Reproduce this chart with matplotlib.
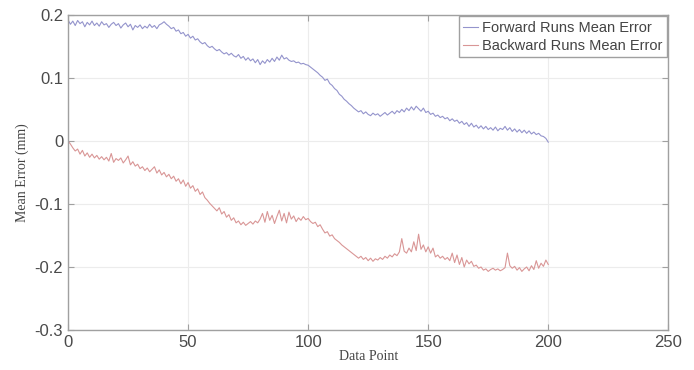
import numpy as np
import matplotlib
matplotlib.use('Agg')
import matplotlib.pyplot as plt

# mean error per data point
forward = [0.192,0.185,0.190,0.183,0.191,0.186,0.189,0.181,0.188,0.184,0.190,
           0.183,0.187,0.182,0.189,0.184,0.186,0.180,0.185,0.188,0.183,
           0.186,0.179,0.184,0.187,0.181,0.185,0.176,0.183,0.180,0.184,
           0.178,0.182,0.179,0.185,0.180,0.183,0.178,0.184,0.186,0.189,
           0.185,0.182,0.178,0.180,0.174,0.176,0.170,0.172,0.166,0.169,
           0.163,0.166,0.160,0.162,0.157,0.154,0.156,0.151,0.148,0.150,
           0.146,0.143,0.145,0.141,0.138,0.140,0.136,0.139,0.135,0.133,
           0.137,0.131,0.134,0.128,0.132,0.127,0.130,0.124,0.129,0.121,
           0.127,0.123,0.129,0.125,0.131,0.126,0.133,0.128,0.136,0.130,
           0.132,0.128,0.126,0.127,0.124,0.125,0.122,0.123,0.121,0.120,
           0.117,0.114,0.111,0.108,0.104,0.101,0.096,0.098,0.091,0.088,
           0.083,0.080,0.074,0.071,0.066,0.063,0.059,0.056,0.052,0.049,
           0.046,0.048,0.043,0.046,0.042,0.040,0.044,0.041,0.043,0.039,
           0.042,0.045,0.041,0.044,0.047,0.043,0.048,0.045,0.050,0.046,
           0.052,0.048,0.054,0.049,0.055,0.051,0.047,0.052,0.045,0.047,
           0.042,0.044,0.039,0.041,0.037,0.039,0.035,0.037,0.032,0.035,
           0.031,0.033,0.028,0.031,0.026,0.029,0.023,0.028,0.022,0.025,
           0.020,0.024,0.019,0.023,0.018,0.021,0.017,0.022,0.016,0.020,
           0.018,0.023,0.017,0.021,0.015,0.019,0.014,0.018,0.013,0.017,
           0.012,0.016,0.011,0.014,0.010,0.012,0.008,0.007,0.004,-0.002]

backward = [0.000,-0.005,-0.011,-0.016,-0.013,-0.021,-0.015,-0.024,-0.019,-0.026,-0.021,
            -0.027,-0.023,-0.029,-0.025,-0.030,-0.026,-0.032,-0.020,-0.034,-0.028,
            -0.031,-0.027,-0.035,-0.030,-0.024,-0.038,-0.033,-0.040,-0.037,-0.044,
            -0.041,-0.047,-0.043,-0.049,-0.045,-0.041,-0.051,-0.046,-0.054,-0.050,
            -0.057,-0.053,-0.060,-0.056,-0.064,-0.060,-0.068,-0.062,-0.072,-0.066,
            -0.075,-0.071,-0.080,-0.076,-0.085,-0.081,-0.090,-0.094,-0.099,-0.103,
            -0.107,-0.111,-0.106,-0.116,-0.112,-0.121,-0.117,-0.126,-0.122,-0.130,
            -0.127,-0.133,-0.129,-0.134,-0.131,-0.128,-0.132,-0.127,-0.130,-0.124,
            -0.115,-0.129,-0.112,-0.126,-0.118,-0.131,-0.120,-0.110,-0.127,-0.115,
            -0.130,-0.113,-0.124,-0.119,-0.128,-0.122,-0.126,-0.120,-0.125,-0.123,
            -0.128,-0.131,-0.129,-0.136,-0.133,-0.140,-0.146,-0.144,-0.151,-0.149,
            -0.155,-0.158,-0.161,-0.165,-0.168,-0.171,-0.174,-0.177,-0.180,-0.183,
            -0.186,-0.183,-0.188,-0.185,-0.190,-0.186,-0.191,-0.187,-0.189,-0.185,
            -0.188,-0.183,-0.186,-0.181,-0.184,-0.179,-0.182,-0.176,-0.155,-0.175,
            -0.178,-0.170,-0.176,-0.160,-0.174,-0.148,-0.172,-0.165,-0.176,-0.168,
            -0.178,-0.170,-0.184,-0.181,-0.186,-0.183,-0.188,-0.185,-0.190,-0.178,
            -0.193,-0.181,-0.196,-0.185,-0.200,-0.189,-0.195,-0.191,-0.199,-0.197,
            -0.202,-0.200,-0.205,-0.203,-0.207,-0.204,-0.202,-0.205,-0.203,-0.206,
            -0.204,-0.201,-0.178,-0.198,-0.202,-0.199,-0.205,-0.201,-0.207,-0.203,
            -0.200,-0.206,-0.198,-0.204,-0.190,-0.202,-0.194,-0.199,-0.189,-0.196]

x = np.arange(len(forward))

fig = plt.figure(figsize=(6.94, 3.70), dpi=100)
ax = fig.add_axes([0.098, 0.108, 0.865, 0.852])

ax.plot(x, forward, color='#9494cc', lw=0.8, label='Forward Runs Mean Error')
ax.plot(x, backward, color='#d99696', lw=0.8, label='Backward Runs Mean Error')

ax.set_xlim(0, 250)
ax.set_ylim(-0.3, 0.2)
ax.set_xticks([0, 50, 100, 150, 200, 250])
ax.set_yticks([-0.3, -0.2, -0.1, 0, 0.1, 0.2])
ax.set_yticklabels(['-0.3', '-0.2', '-0.1', '0', '0.1', '0.2'])
ax.grid(True, color='#ececec', lw=0.8)
ax.set_axisbelow(True)

for s in ax.spines.values():
    s.set_color('#a0a0a0')
    s.set_linewidth(1.0)
ax.tick_params(direction='in', top=True, right=True, length=4, color='#a0a0a0',
               labelsize=12, labelcolor='#4a4a4a')
for lab in ax.get_xticklabels() + ax.get_yticklabels():
    lab.set_fontfamily('Liberation Sans')

ax.set_xlabel('Data Point', family='Liberation Serif', fontsize=10, color='#444444', labelpad=0)
ax.set_ylabel('Mean Error (mm)', family='Liberation Serif', fontsize=10, color='#444444', labelpad=4)

leg = ax.legend(loc='upper right', prop={'family': 'Liberation Sans', 'size': 10.5},
                fancybox=False, framealpha=1, edgecolor='#a0a0a0', handlelength=1.0,
                handletextpad=0.3, borderpad=0.3, labelspacing=0.3, borderaxespad=0.1)
for t in leg.get_texts():
    t.set_color('#444444')

fig.savefig('out.png', dpi=100)
